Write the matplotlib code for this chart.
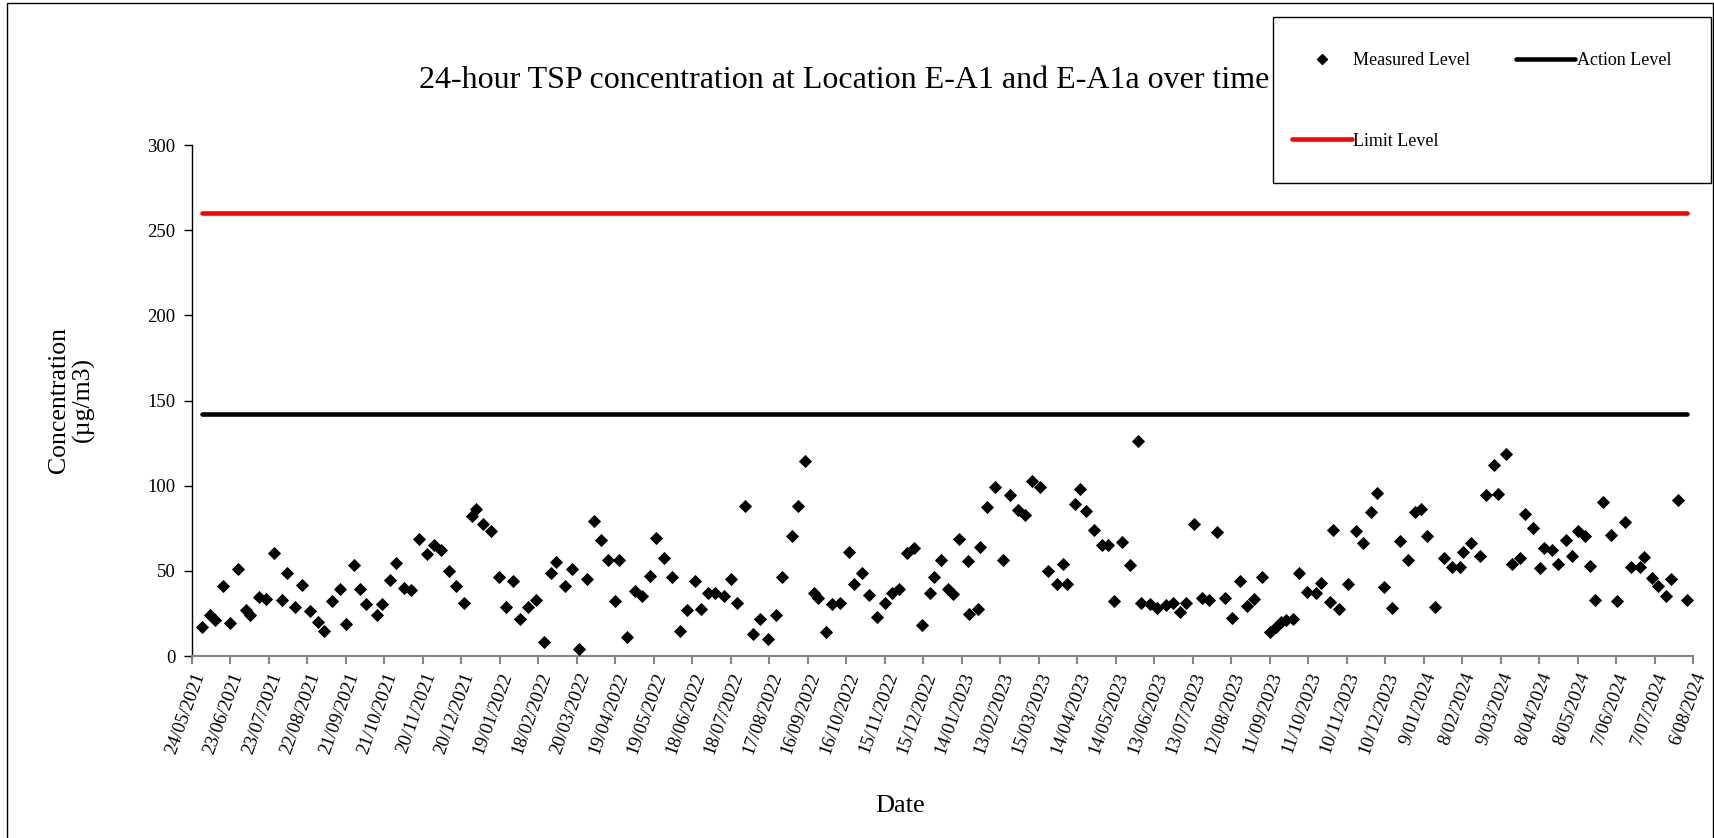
import matplotlib
matplotlib.use("Agg")
import matplotlib.pyplot as plt
from matplotlib.lines import Line2D
from matplotlib.patches import Rectangle
import numpy as np

plt.rcParams['font.family'] = ['Liberation Serif', 'DejaVu Serif']

# sampling days counted from 24/05/2021
start_date = np.datetime64("2021-05-24")
end_date = np.datetime64("2024-08-06")

sample_day = [
    8, 14, 18, 24, 30, 36, 42, 45, 52, 58, 64, 70, 74, 80, 86, 92, 98, 103, 109, 115,
    120, 126, 131, 136, 144, 148, 154, 159, 165, 171, 177, 183, 189, 194, 200, 206, 212, 218, 221, 227,
    233, 239, 245, 250, 256, 262, 268, 274, 280, 284, 291, 296, 302, 308, 313, 319, 324, 330, 333, 339,
    345, 351, 357, 362, 368, 374, 380, 386, 392, 397, 402, 408, 415, 420, 425, 431, 437, 443, 449, 455,
    460, 468, 472, 478, 485, 488, 494, 499, 505, 512, 516, 522, 528, 534, 540, 546, 551, 557, 563, 569,
    575, 578, 584, 589, 593, 598, 605, 606, 613, 614, 620, 626, 632, 638, 644, 649, 655, 661, 667, 674,
    679, 682, 688, 692, 697, 703, 709, 714, 719, 725, 731, 737, 740, 747, 752, 759, 765, 770, 775, 781,
    787, 793, 799, 805, 811, 817, 822, 828, 834, 840, 845, 849, 853, 858, 863, 869, 876, 880, 887, 889,
    894, 901, 907, 913, 919, 924, 929, 935, 942, 948, 953, 958, 963, 969, 976, 982, 988, 991, 997, 1004,
    1009, 1015, 1018, 1024, 1029, 1035, 1039, 1045, 1051, 1054, 1060, 1065, 1071, 1076, 1080, 1086, 1090, 1094, 1100, 1106,
    1111, 1117, 1122, 1129, 1132, 1138, 1143, 1149, 1153, 1158, 1165,
]

measured = [
    17.1, 24.3, 21.4, 41.0, 19.4, 50.8, 26.9, 24.3, 34.7, 33.3, 60.6, 33.1, 48.8, 28.8, 41.4, 26.7, 20.0, 14.9, 32.2, 39.2,
    18.6, 53.5, 39.2, 30.8, 23.9, 30.8, 44.7, 54.5, 40.0, 38.6, 68.4, 59.8, 65.1, 62.5, 50.0, 41.2, 31.0, 82.4, 86.1, 77.3,
    73.4, 46.3, 29.0, 43.9, 22.0, 29.0, 33.1, 8.0, 49.0, 55.1, 41.2, 51.2, 3.9, 45.3, 79.4, 68.0, 56.1, 32.0, 56.1, 11.0,
    38.0, 35.1, 47.1, 69.2, 57.3, 46.3, 14.9, 27.1, 44.1, 27.8, 37.1, 37.1, 35.1, 45.1, 31.0, 88.2, 13.1, 22.0, 9.8, 24.1,
    46.3, 70.2, 88.2, 114.3, 37.1, 34.1, 14.1, 30.4, 31.4, 60.8, 42.4, 49.0, 36.1, 22.7, 31.4, 36.7, 39.2, 60.2, 63.3, 18.2,
    37.1, 46.3, 56.3, 39.6, 36.3, 68.8, 55.9, 24.7, 27.8, 64.1, 87.3, 99.4, 56.1, 94.3, 85.5, 82.9, 102.9, 99.4, 49.8, 42.4,
    54.1, 42.4, 89.4, 97.8, 85.3, 74.1, 65.1, 65.1, 32.0, 66.9, 53.7, 126.5, 31.2, 30.4, 28.2, 30.2, 31.0, 25.9, 31.2, 77.3,
    34.1, 33.1, 72.7, 33.9, 22.5, 44.3, 29.4, 33.3, 46.1, 13.9, 17.1, 20.0, 21.0, 21.8, 48.6, 37.5, 36.7, 43.1, 31.8, 73.9,
    27.8, 42.4, 73.3, 66.1, 84.7, 95.5, 40.8, 28.2, 67.3, 56.1, 84.5, 86.3, 70.2, 29.0, 57.5, 52.4, 52.4, 61.2, 66.3, 59.0,
    94.3, 112.4, 95.3, 118.4, 54.1, 57.5, 83.1, 75.3, 51.4, 63.3, 62.2, 54.1, 68.2, 59.0, 73.5, 70.2, 53.1, 33.1, 90.4, 71.0,
    32.0, 78.4, 52.4, 52.4, 58.2, 45.5, 41.2, 35.1, 45.1, 91.4, 33.1,
]

action_level = 142
limit_level = 260

dates = start_date + np.array(sample_day).astype("timedelta64[D]")
tick_dates = np.arange(start_date, end_date + np.timedelta64(1, "D"), np.timedelta64(30, "D"))
tick_labels = []
for d in tick_dates.astype(object):
    tick_labels.append(f"{d.day}/{d.month:02d}/{d.year}")

W, H = 1715, 838
fig = plt.figure(figsize=(W / 100, H / 100), dpi=100)
ax = fig.add_axes([192 / W, 1 - 656 / H, (1693 - 192) / W, (656 - 145) / H])

ax.plot(dates, [limit_level] * len(dates), color="#FF0000", lw=3.3, solid_capstyle="round", zorder=2)
ax.plot(dates, [action_level] * len(dates), color="black", lw=3.3, solid_capstyle="round", zorder=2)
ax.plot(dates, measured, ls="none", marker="D", ms=6.2, color="black", mew=0.6, zorder=3)

ax.set_xlim(start_date, end_date)
ax.set_ylim(0, 300)
ax.set_yticks(range(0, 301, 50))
ax.set_xticks(tick_dates)
ax.set_xticklabels(tick_labels, rotation=70, ha="right", va="top", rotation_mode="anchor")

for side in ["top", "right"]:
    ax.spines[side].set_visible(False)
ax.spines["left"].set_color("black")
ax.spines["bottom"].set_color("#868686")
ax.spines["left"].set_linewidth(1.0)
ax.spines["bottom"].set_linewidth(1.5)
ax.tick_params(axis="x", colors="#868686", labelcolor="black", length=6, width=1.5, labelsize=13.5, pad=4)
ax.tick_params(axis="y", length=6, width=1.0, labelsize=13.5, pad=6)

fig.text(0.492, 1 - 80 / H, "24-hour TSP concentration at Location E-A1 and E-A1a over time",
         ha="center", va="center", fontsize=23)
fig.text(71 / W, 1 - 400 / H, "Concentration\n(µg/m3)", rotation=90, ha="center", va="center",
         fontsize=18.5, linespacing=1.1)
fig.text(900 / W, 1 - 806 / H, "Date", ha="center", va="center", fontsize=19)

handles = [
    Line2D([], [], ls="none", marker="D", ms=5.6, color="black"),
    Line2D([], [], color="#FF0000", lw=3.3, solid_capstyle="round"),
    Line2D([], [], color="black", lw=3.3, solid_capstyle="round"),
]
labels = ["Measured Level", "Limit Level", "Action Level"]
leg = fig.legend(handles, labels, ncol=2, loc="center left", bbox_to_anchor=(1292 / W, 1 - 101 / H),
                 frameon=False, fontsize=13, handlelength=3.3, handletextpad=0.1,
                 columnspacing=2.5, labelspacing=3.5, borderpad=0, borderaxespad=0, numpoints=1)

# legend box and outer chart border
fig.patches.append(Rectangle((1273 / W, 1 - 183 / H), (1711 - 1273) / W, (183 - 17) / H,
                             transform=fig.transFigure, fill=False, edgecolor="black", lw=1.0))
fig.patches.append(Rectangle((7 / W, -0.02), (1713 - 7) / W, 1.02 - 3 / H, transform=fig.transFigure,
                             fill=False, edgecolor="black", lw=1.0))

fig.savefig("out.png", dpi=100)
